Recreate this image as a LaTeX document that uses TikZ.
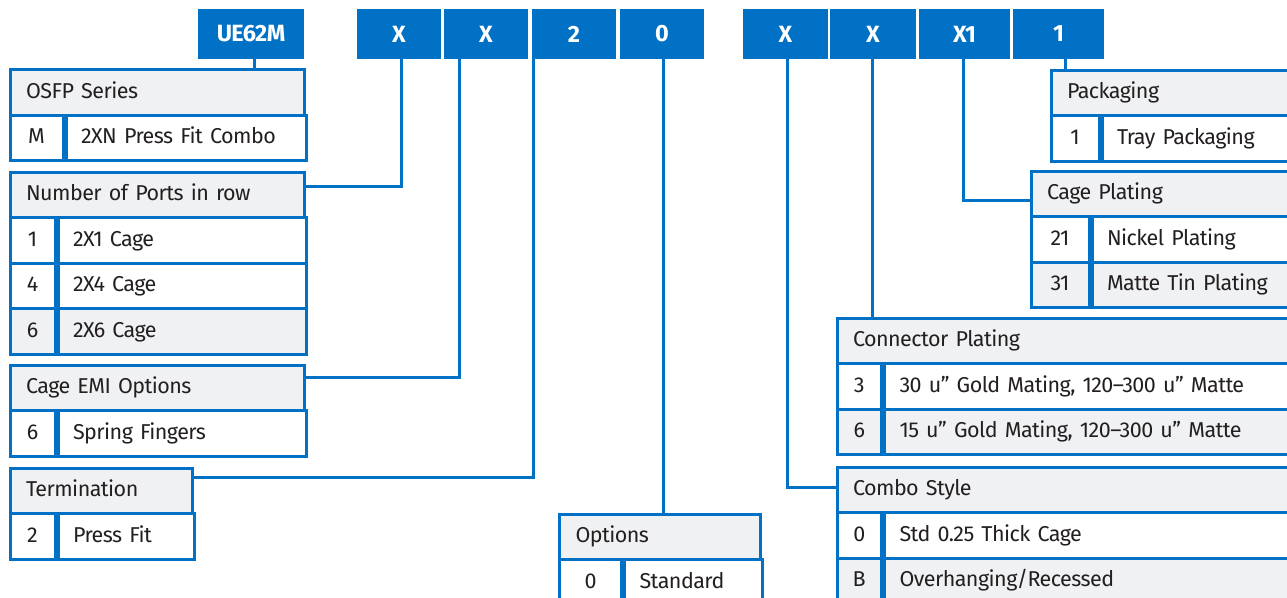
\documentclass[tikz,border=0pt]{standalone}
\usepackage{fontspec}
\setmainfont{Fira Sans}[LetterSpace=-2.5]
\definecolor{pnblue}{HTML}{0071C5}
\definecolor{pngray}{HTML}{F0F1F3}
\definecolor{pntext}{HTML}{231F20}
\newcommand{\codebox}[4]{
  \node[digit, minimum width=#3pt] (#1) at (#2,34) {#4};
}
\newcommand{\codetable}[7]{
  \pgfmathsetmacro{\hw}{#4-32}
  \pgfmathsetmacro{\vw}{#4-#5-31}
  \node[cell, fill=pngray, text width=\hw pt] (#1) at (#2,#3) {#6};
  \foreach \k/\v/\f [count=\i] in {#7}{
    \node[cell, fill=\f, minimum width=#5pt, inner xsep=0pt, align=center]
      (#1-k\i) at (#2,{#3+45.5*\i}) {\k};
    \node[cell, fill=\f, text width=\vw pt, inner xsep=15pt]
      (#1-v\i) at (#1-k\i.north east) {\v};
  }
}
\tikzset{
  x=1pt, y=-1pt,
  digit/.style={fill=pnblue, text=white, inner sep=0pt, minimum height=50pt,
                font=\bfseries\fontsize{23.5}{27}\selectfont},
  cell/.style={draw=pnblue, line width=3pt, anchor=north west, align=left,
               minimum height=45.5pt, inner xsep=16pt, inner ysep=0pt,
               text height=15.5pt, text depth=4pt, text=pntext,
               font=\fontsize{21.5}{25}\selectfont},
  link/.style={draw=pnblue, line width=3pt},
}

\begin{document}
\begin{tikzpicture}
  \clip (0,0) rectangle (1287,597);
  \codebox{ue}{251}{106}{UE62M}
  \codebox{xa}{399}{84}{X}
  \codebox{xb}{486}{84}{X}
  \codebox{tw}{574}{84}{2}
  \codebox{ze}{662}{84}{0}
  \codebox{xc}{785.5}{85}{X}
  \codebox{xd}{873}{86}{X}
  \codebox{xe}{964.5}{91}{X1}
  \codebox{on}{1058.5}{91}{1}
  \codetable{series}{8.5}{68}{294.5}{53}{OSFP Series}{M/2XN Press Fit Combo/white}
  \codetable{ports}{8.5}{170.5}{294.5}{45}{Number of Ports in row}
    {1/2X1 Cage/white, 4/2X4 Cage/white, 6/2X6 Cage/pngray}
  \codetable{emi}{8.5}{363.5}{294.5}{45}{Cage EMI Options}{6/Spring Fingers/white}
  \codetable{term}{8.5}{466.5}{182}{45}{Termination}{2/Press Fit/white}
  \codetable{opts}{558}{512.5}{201}{62}{Options}{0/Standard/white}
  \codetable{pack}{1049.5}{68.5}{260}{48}{Packaging}{1/Tray Packaging/white}
  \codetable{cage}{1029.5}{169.5}{280}{58}{Cage Plating}
    {21/Nickel Plating/white, 31/Matte Tin Plating/pngray}
  \codetable{conn}{835.5}{316.5}{470}{44.5}{Connector Plating}
    {3/{30 u” Gold Mating, 120–300 u” Matte}/white,
     6/{15 u” Gold Mating, 120–300 u” Matte}/pngray}
  \codetable{combo}{835.5}{465.5}{470}{44.5}{Combo Style}
    {0/Std 0.25 Thick Cage/white, B/{Overhanging/Recessed}/pngray}
  \draw[link] ([xshift=3pt]ue.south) -- ([xshift=3pt]ue.south |- series.north);
  \draw[link] ([xshift=2pt]xa.south) |- ([yshift=-15.5pt]ports.north east);
  \draw[link] ([xshift=16pt]xb.south west) |- ([yshift=-13.5pt]emi.north east);
  \draw[link] ([xshift=2pt]tw.south west) |- ([yshift=-10.5pt]term.north east);
  \draw[link] ([xshift=1pt]ze.south) -- ([xshift=1pt]ze.south |- opts.north);
  \draw[link] ([xshift=1.5pt]xc.south) |- ([yshift=-21.5pt]combo.north west);
  \draw[link] ([xshift=-1pt]xd.south) -- ([xshift=-1pt]xd.south |- conn.north);
  \draw[link] ([xshift=-1.5pt]xe.south) |- ([yshift=-30.5pt]cage.north west);
  \draw[link] ([xshift=6.5pt]on.south) -- ([xshift=6.5pt]on.south |- pack.north);
\end{tikzpicture}
\end{document}
